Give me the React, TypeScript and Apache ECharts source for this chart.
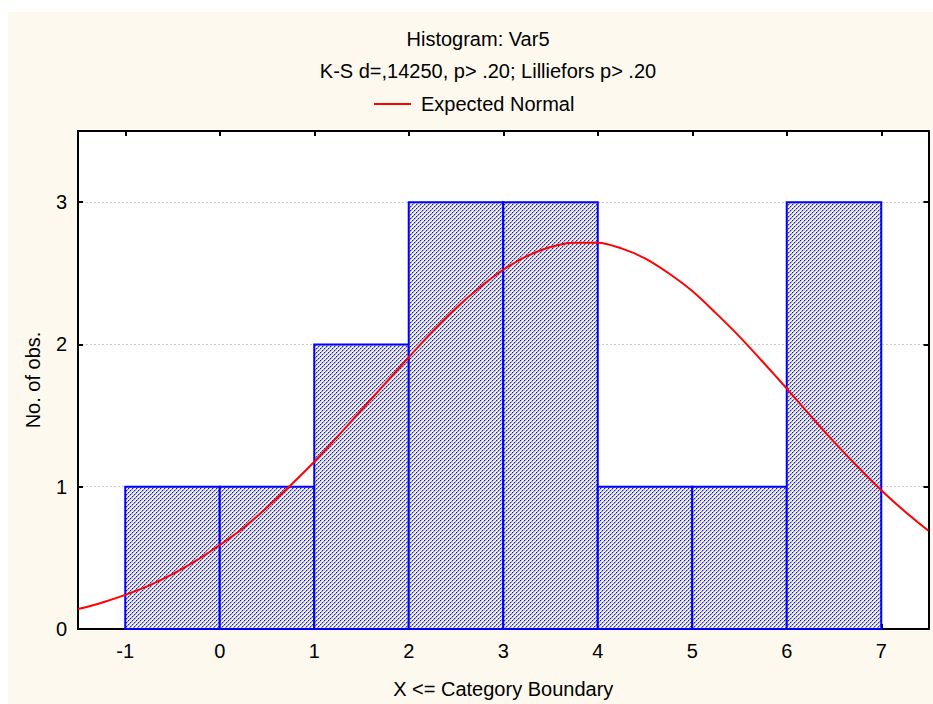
import React, { useEffect, useRef } from "react";
import * as echarts from "echarts";

const titleText = "Histogram: Var5";
const subtitleText = "K-S d=,14250, p> .20; Lilliefors p> .20";
const legendName = "Expected Normal";
const xAxisName = "X <= Category Boundary";
const yAxisName = "No. of obs.";

const binStart = [-1, 0, 1, 2, 3, 4, 5, 6];
const binEnd = [0, 1, 2, 3, 4, 5, 6, 7];
const counts = [1, 1, 2, 3, 3, 1, 1, 3];

const curveX = [
  -1.5, -1.25, -1, -0.75, -0.5, -0.25, 0, 0.25, 0.5, 0.75, 1, 1.25, 1.5, 1.75, 2, 2.25, 2.5, 2.75, 3,
  3.25, 3.5, 3.75, 4, 4.25, 4.5, 4.75, 5, 5.25, 5.5, 5.75, 6, 6.25, 6.5, 6.75, 7, 7.25, 7.5,
];
const curveY = [
  0.14, 0.185, 0.24, 0.305, 0.385, 0.48, 0.59, 0.71, 0.855, 1.01, 1.175, 1.355, 1.54, 1.725, 1.91, 2.09,
  2.255, 2.4, 2.525, 2.62, 2.685, 2.715, 2.715, 2.675, 2.605, 2.5, 2.375, 2.22, 2.055, 1.875, 1.69, 1.5,
  1.315, 1.14, 0.975, 0.825, 0.69,
];

const xTicks = [-1, 0, 1, 2, 3, 4, 5, 6, 7];
const yTicks = [0, 1, 2, 3];

const FONT = "Liberation Sans, Arial, sans-serif";
const FS = 20;

function makePattern() {
  const c = document.createElement("canvas");
  c.width = 4;
  c.height = 4;
  const ctx = c.getContext("2d")!;
  for (let y = 0; y < 4; y++) {
    for (let x = 0; x < 4; x++) {
      const k = (x + y) % 4;
      let col = "#ffffff";
      if (k === 0) col = y % 2 === 0 ? "#262680" : "#8486cc";
      else if (k === 1) col = "#aeb0e2";
      else if (k === 2) col = "#e6e6f6";
      ctx.fillStyle = col;
      ctx.fillRect(x, y, 1, 1);
    }
  }
  return { image: c, repeat: "repeat", imageWidth: 4, imageHeight: 4 } as any;
}

export default function App() {
  const ref = useRef<HTMLDivElement>(null);
  useEffect(() => {
    if (!ref.current) return;
    const chart = echarts.init(ref.current, undefined, { renderer: "svg" });
    const pattern = makePattern();
    const bins = binStart.map((s, i) => [s, binEnd[i], counts[i]]);
    const curve = curveX.map((x, i) => [x, curveY[i]]);
    const axisCommon = {
      type: "value" as const,
      axisLine: { show: true, onZero: false, lineStyle: { color: "#000", width: 2 } },
      axisTick: { show: true, inside: true, length: 5, lineStyle: { color: "#000", width: 2 } },
    };
    chart.setOption({
      animation: false,
      backgroundColor: "#fdf9ef",
      textStyle: { fontFamily: FONT },
      title: [
        {
          text: titleText,
          left: 470,
          top: 17,
          padding: 0,
          textAlign: "center",
          textStyle: { fontFamily: FONT, fontSize: FS, fontWeight: "normal", color: "#000" },
        },
        {
          text: subtitleText,
          left: 480,
          top: 49,
          padding: 0,
          textAlign: "center",
          textStyle: { fontFamily: FONT, fontSize: FS, fontWeight: "normal", color: "#000" },
        },
      ],
      legend: {
        left: 366,
        top: 82,
        padding: 0,
        itemWidth: 37,
        itemHeight: 2,
        data: [{ name: legendName, icon: "rect" }],
        textStyle: { fontFamily: FONT, fontSize: FS, color: "#000", padding: [0, 0, 0, 5] },
      },
      grid: {
        left: 70,
        top: 119,
        right: 4.5,
        bottom: 73,
        show: true,
        backgroundColor: "#ffffff",
        borderWidth: 0,
      },
      xAxis: [
        {
          ...axisCommon,
          position: "bottom",
          min: -1.5,
          max: 7.5,
          axisTick: { ...axisCommon.axisTick, customValues: xTicks },
          axisLabel: { customValues: xTicks, margin: 12, color: "#000", fontFamily: FONT, fontSize: FS },
          splitLine: { show: false },
          name: xAxisName,
          nameLocation: "middle",
          nameGap: 50,
          nameTextStyle: { fontFamily: FONT, fontSize: FS, color: "#000" },
        },
        {
          ...axisCommon,
          position: "top",
          min: -1.5,
          max: 7.5,
          axisTick: { ...axisCommon.axisTick, customValues: xTicks },
          axisLabel: { show: false },
          splitLine: { show: false },
        },
      ],
      yAxis: [
        {
          ...axisCommon,
          position: "left",
          min: 0,
          max: 3.5,
          interval: 1,
          axisTick: { ...axisCommon.axisTick, customValues: yTicks },
          axisLabel: { customValues: yTicks, margin: 11, color: "#000", fontFamily: FONT, fontSize: FS },
          splitLine: { show: true, lineStyle: { color: "#cccccc", width: 1, type: [2, 2] } },
          name: yAxisName,
          nameLocation: "middle",
          nameGap: 35,
          nameTextStyle: { fontFamily: FONT, fontSize: FS, color: "#000" },
        },
        {
          ...axisCommon,
          position: "right",
          min: 0,
          max: 3.5,
          interval: 1,
          axisTick: { ...axisCommon.axisTick, customValues: yTicks },
          axisLabel: { show: false },
          splitLine: { show: false },
        },
      ],
      series: [
        {
          type: "custom",
          name: "Histogram",
          xAxisIndex: 0,
          yAxisIndex: 0,
          encode: { x: [0, 1], y: 2 },
          data: bins,
          renderItem: (params: any, api: any) => {
            const p0 = api.coord([api.value(0), api.value(2)]);
            const p1 = api.coord([api.value(1), 0]);
            return {
              type: "rect",
              shape: { x: p0[0], y: p0[1], width: p1[0] - p0[0], height: p1[1] - p0[1] },
              style: { fill: pattern, stroke: "#0000ff", lineWidth: 2 },
            };
          },
        },
        {
          type: "line",
          name: legendName,
          xAxisIndex: 0,
          yAxisIndex: 0,
          data: curve,
          smooth: 0.3,
          showSymbol: false,
          symbol: "none",
          lineStyle: { color: "#ff0000", width: 2 },
          itemStyle: { color: "#ff0000" },
          z: 5,
        },
      ],
    });
    return () => chart.dispose();
  }, []);
  return (
    <div style={{ position: "fixed", left: 8, top: 12, width: 925, height: 692 }}>
      <div ref={ref} style={{ width: 925, height: 692 }} />
    </div>
  );
}
